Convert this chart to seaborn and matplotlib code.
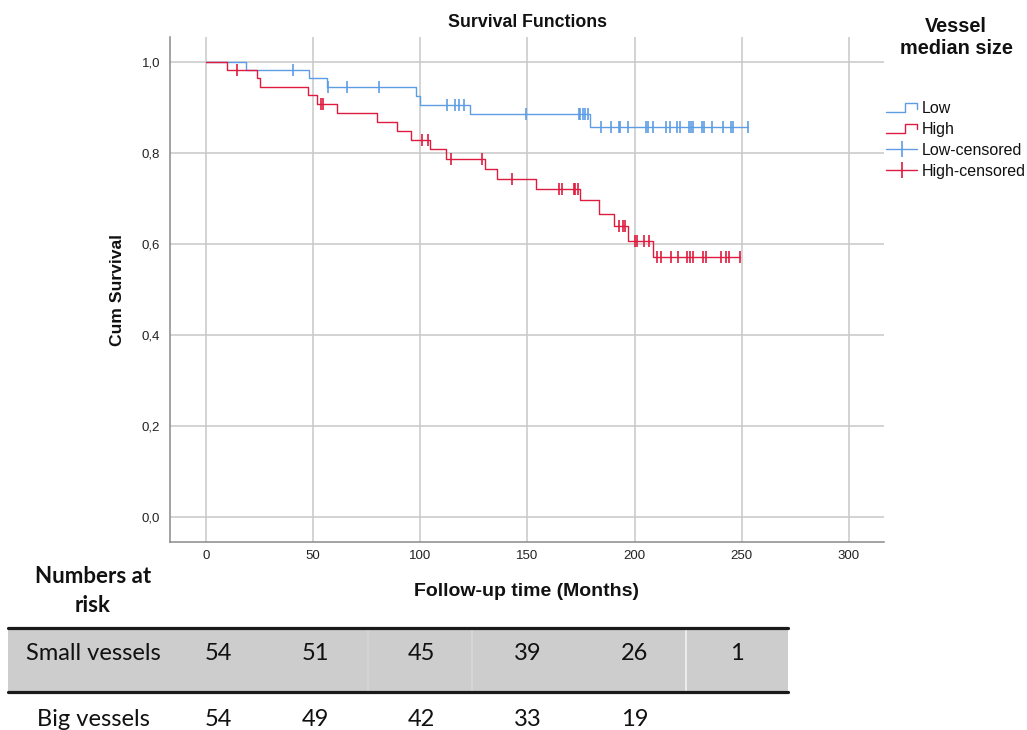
import numpy as np
import pandas as pd
import matplotlib
matplotlib.use("Agg")
import matplotlib.pyplot as plt
import seaborn as sns
from matplotlib.lines import Line2D
from matplotlib.patches import Rectangle
from matplotlib.legend_handler import HandlerBase

# ---------------- data ----------------
groups = ["Low", "High"]

# Kaplan-Meier step points (time in months, cumulative survival)
low_step_t = [0, 18.6, 48.0, 56.5, 97.8, 99.8, 123.1, 179.3]
low_step_s = [1.0, 0.981, 0.963, 0.944, 0.925, 0.905, 0.884, 0.857]
low_end_t = 253.1
low_censor_t = [40.4, 57.0, 65.7, 80.7, 112.3, 116.1, 118.0, 120.3, 149.3,
                173.9, 174.7, 175.7, 177.0, 178.2, 184.3, 189.1, 192.8, 193.3,
                196.9, 205.4, 206.2, 208.8, 214.7, 216.3, 219.7, 221.2, 225.4,
                226.2, 227.4, 231.6, 232.6, 236.3, 241.4, 245.0, 246.1, 253.1]

high_step_t = [0, 9.6, 23.8, 25.3, 47.4, 51.6, 61.3, 79.6, 89.3, 95.8, 104.4,
               112.2, 130.4, 135.8, 154.2, 174.7, 183.5, 190.2, 196.9, 208.5]
high_step_s = [1.0, 0.981, 0.963, 0.944, 0.926, 0.907, 0.887, 0.867, 0.848,
               0.827, 0.808, 0.786, 0.765, 0.743, 0.721, 0.695, 0.665, 0.638,
               0.607, 0.570]
high_end_t = 249.2
high_censor_t = [14.4, 53.8, 54.8, 100.6, 103.7, 114.3, 128.8, 143.0, 164.5,
                 166.1, 171.5, 172.3, 173.4, 192.8, 194.8, 195.6, 200.0, 201.0,
                 204.5, 206.5, 210.4, 212.2, 216.9, 220.4, 224.6, 225.9, 227.4,
                 232.1, 233.2, 240.2, 242.5, 244.1, 249.2]

x_ticks = [0, 50, 100, 150, 200, 250, 300]
y_ticks = [0.0, 0.2, 0.4, 0.6, 0.8, 1.0]
y_tick_labels = ["0,0", "0,2", "0,4", "0,6", "0,8", "1,0"]

legend_labels = ["Low", "High", "Low-censored", "High-censored"]

risk_row_labels = ["Small vessels", "Big vessels"]
small_at_risk = [54, 51, 45, 39, 26, 1]
big_at_risk = [54, 49, 42, 33, 19]

# ---------------- style ----------------
W, H = 1027, 730
sns.set_theme(style="white")
plt.rcParams["font.family"] = ["Liberation Sans", "DejaVu Sans"]

colors = {"Low": "#5d9de5", "High": "#df1b40"}


def step_value(ts, ss, t):
    i = np.searchsorted(np.asarray(ts), t, side="right") - 1
    return ss[i]


# build dataframes
rows = []
for g, ts, ss, te in [("Low", low_step_t, low_step_s, low_end_t),
                      ("High", high_step_t, high_step_s, high_end_t)]:
    for t, s in zip(ts, ss):
        rows.append((g, t, s))
    rows.append((g, te, ss[-1]))
curve_df = pd.DataFrame(rows, columns=["group", "t", "s"])

crow = []
for g, cts, ts, ss in [("Low", low_censor_t, low_step_t, low_step_s),
                       ("High", high_censor_t, high_step_t, high_step_s)]:
    for t in cts:
        crow.append((g, t, step_value(ts, ss, t)))
cens_df = pd.DataFrame(crow, columns=["group", "t", "s"])

fig = plt.figure(figsize=(W / 100, H / 100), dpi=100)
ax_l, ax_r, ax_t, ax_b = 170, 884, 37, 542
ax = fig.add_axes([ax_l / W, 1 - ax_b / H, (ax_r - ax_l) / W, (ax_b - ax_t) / H])

sns.lineplot(data=curve_df, x="t", y="s", hue="group", palette=colors,
             hue_order=groups, drawstyle="steps-post", estimator=None,
             sort=False, linewidth=1.0, legend=False, ax=ax, zorder=3)
sns.scatterplot(data=cens_df, x="t", y="s", hue="group", palette=colors,
                hue_order=groups, marker="|", s=75, linewidth=1.2,
                legend=False, ax=ax, zorder=4)

ax.set_xlim(-16.8, 316.4)
ax.set_ylim(-0.0549, 1.054)
ax.set_xticks(x_ticks)
ax.set_xticklabels([str(v) for v in x_ticks])
ax.set_yticks(y_ticks)
ax.set_yticklabels(y_tick_labels)
ax.tick_params(axis="both", length=0, labelsize=9.5, colors="#222222")
ax.tick_params(axis="x", pad=6)
ax.tick_params(axis="y", pad=7)
ax.grid(True, color="#c8c8c8", linewidth=1.1)
ax.set_axisbelow(True)
for side in ["top", "right"]:
    ax.spines[side].set_visible(False)
for side in ["left", "bottom"]:
    ax.spines[side].set_color("#8a8a8a")
    ax.spines[side].set_linewidth(1.1)

ax.set_xlabel("")
ax.set_ylabel("Cum Survival", fontsize=12.6, fontweight="bold",
              labelpad=12, color="#111111")
ax.set_title("Survival Functions", fontsize=12.8, fontweight="bold",
             pad=7, color="#111111")
fig.text(527 / W, 1 - 592 / H, "Follow-up time (Months)", ha="center",
         va="center", fontsize=14, fontweight="bold", color="#111111")


# ---------------- legend ----------------
class HandlerStep(HandlerBase):
    def create_artists(self, legend, orig_handle, xdescent, ydescent,
                       width, height, fontsize, trans):
        x0, y0 = -xdescent, -ydescent
        xs = [x0, x0 + 0.6 * width, x0 + 0.6 * width, x0 + width, x0 + width]
        ys = [y0 + 0.1 * height, y0 + 0.1 * height, y0 + 0.85 * height,
              y0 + 0.85 * height, y0 + 0.4 * height]
        ln = Line2D(xs, ys, color=orig_handle.get_color(),
                    linewidth=orig_handle.get_linewidth())
        ln.set_transform(trans)
        return [ln]


h_low = Line2D([], [], color=colors["Low"], linewidth=1.0)
h_high = Line2D([], [], color=colors["High"], linewidth=1.0)
h_lowc = Line2D([], [], color=colors["Low"], linewidth=1.0, marker="|",
                markersize=11, markeredgewidth=1.2)
h_highc = Line2D([], [], color=colors["High"], linewidth=1.0, marker="|",
                 markersize=11, markeredgewidth=1.2)
fig.legend(handles=[h_low, h_high, h_lowc, h_highc], labels=legend_labels,
           handler_map={h_low: HandlerStep(), h_high: HandlerStep()},
           loc="upper left", bbox_to_anchor=(886 / W, 1 - 101 / H),
           bbox_transform=fig.transFigure, frameon=False, fontsize=11.5,
           handlelength=1.95, handletextpad=0.3, labelspacing=0.37,
           borderaxespad=0, borderpad=0, numpoints=1,
           labelcolor="#111111")
fig.text(956 / W, 1 - 38 / H, "Vessel\nmedian size", ha="center", va="center",
         fontsize=14.3, fontweight="bold", color="#111111", linespacing=1.2)

# ---------------- numbers-at-risk table ----------------
def fx(x):
    return x / W


def fy(y):
    return 1 - y / H


tfont = ["Lato", "DejaVu Sans"]
fig.text(fx(93), fy(591), "Numbers at\nrisk", ha="center", va="center",
         fontsize=16, fontweight="bold", family=tfont, linespacing=1.45,
         color="#111111")

fig.add_artist(Rectangle((fx(8), fy(692)), fx(788) - fx(8), fy(628) - fy(692),
                         transform=fig.transFigure, facecolor="#cdcdcd",
                         edgecolor="none", zorder=1))
for xs, c in [(368, "#d6d6d6"), (472, "#d9d9d9"), (686, "#f2f2f2")]:
    fig.add_artist(Line2D([fx(xs), fx(xs)], [fy(692), fy(628)],
                          transform=fig.transFigure, color=c, linewidth=1.2,
                          zorder=2))
for yl in [628, 692]:
    fig.add_artist(Line2D([fx(8), fx(788)], [fy(yl), fy(yl)],
                          transform=fig.transFigure, color="#1a1a1a",
                          linewidth=2.3, zorder=3))

col_x = [218, 315, 421, 528, 635, 737]
row_y = [653, 719]
for label, vals, yy in zip(risk_row_labels, [small_at_risk, big_at_risk], row_y):
    fig.text(fx(93), fy(yy), label, ha="center", va="center", fontsize=17,
             family=tfont, color="#111111", zorder=4)
    for v, xx in zip(vals, col_x):
        fig.text(fx(xx), fy(yy), str(v), ha="center", va="center",
                 fontsize=17, family=tfont, color="#111111", zorder=4)

fig.savefig("out.png", dpi=100)
